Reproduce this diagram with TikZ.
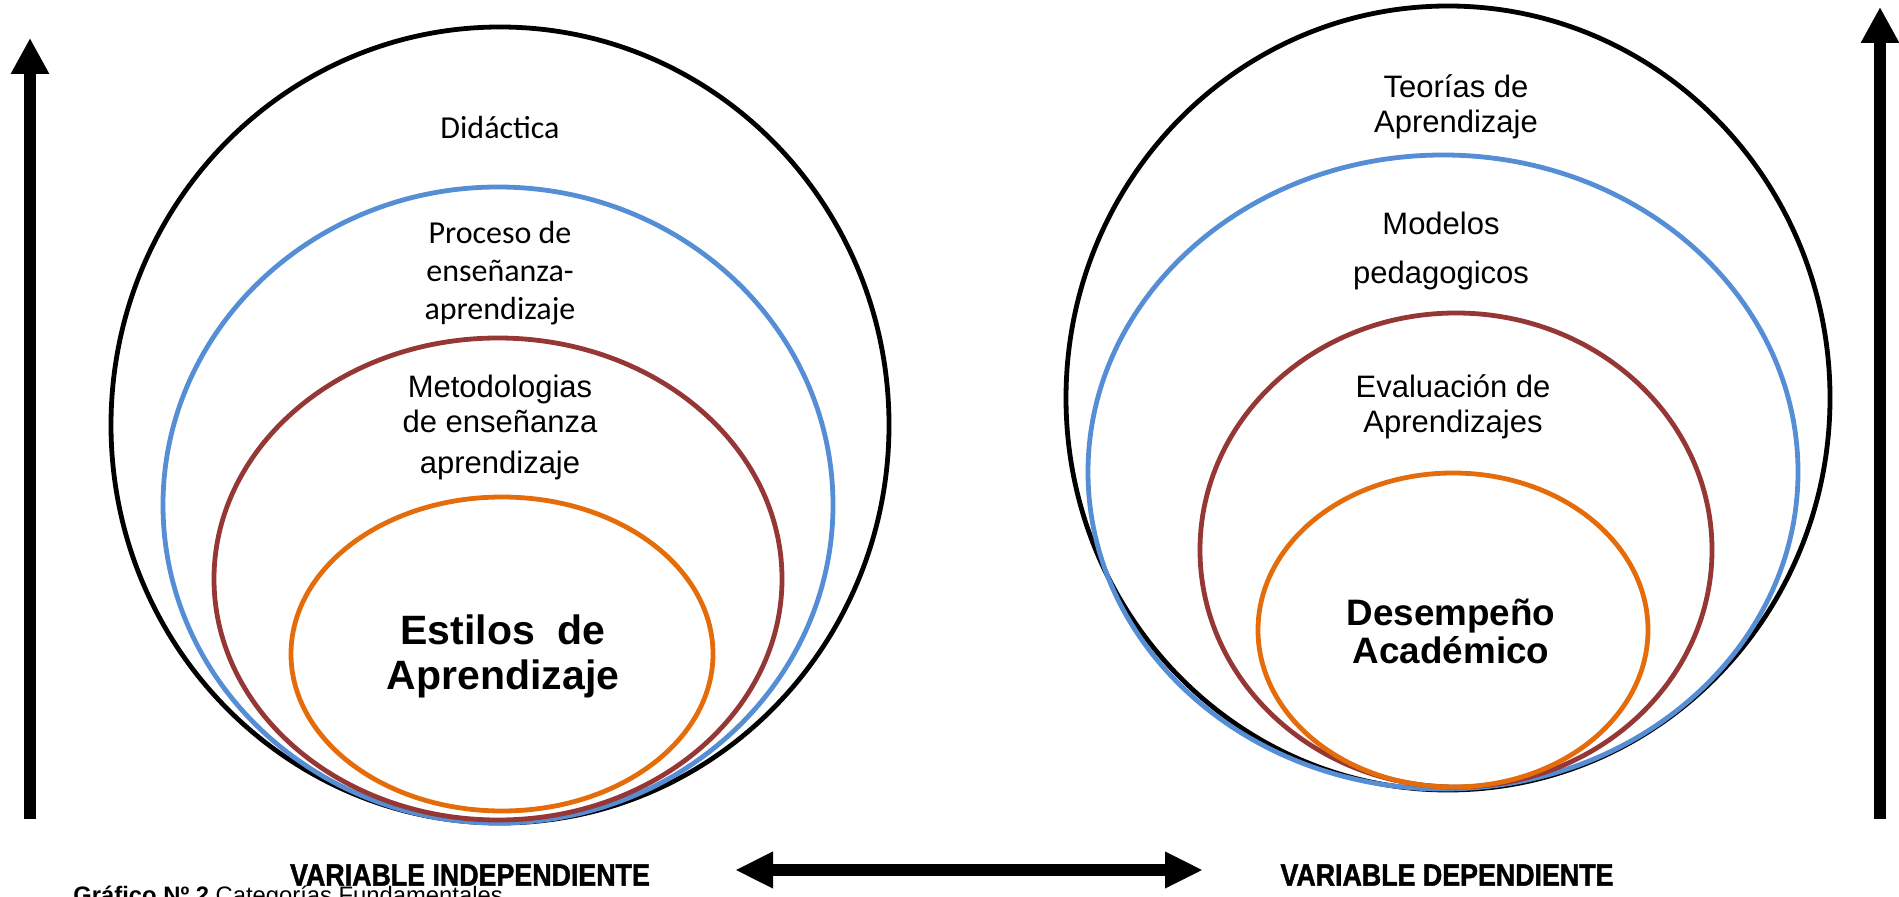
\documentclass[tikz,border=0pt]{standalone}
\usepackage{fontspec}
\setmainfont{Liberation Sans}
\newfontfamily\calfont{Carlito}
\newfontfamily\varfont[BoldFeatures={FakeBold=1.6}]{Liberation Sans}
\usetikzlibrary{arrows.meta}

\definecolor{ringblue}{HTML}{558ED5}
\definecolor{ringred}{HTML}{953735}
\definecolor{ringorange}{HTML}{E46C0A}

\begin{document}
\begin{tikzpicture}[x=0.5pt,y=-0.5pt,
		ring/.style={line width=2.4pt},
		lbl/.style={align=center,font=\fontsize{15.5}{17.5}\selectfont},
		cal/.style={align=center,font=\calfont\fontsize{16}{19}\selectfont},
		big/.style={align=center,font=\fontsize{20.5}{22.5}\selectfont\bfseries},
		varname/.style={font=\varfont\fontsize{15.4}{17}\selectfont\bfseries},
		fatarrow/.style={line width=6pt,-{Triangle[length=18pt,width=18pt]}}]
		\useasboundingbox (0,0) rectangle (1899,897);

		% left rings
		\draw [ring] (500,425) ellipse [x radius=389, y radius=398];
		\draw [ring,ringblue] (498,505) ellipse [x radius=335, y radius=318];
		\draw [ring,ringred] (498,579) ellipse [x radius=284, y radius=241];
		\draw [ring,ringorange] (502,654) ellipse [x radius=211, y radius=157];

		% right rings
		\draw [ring] (1448,398) ellipse [x radius=382, y radius=392];
		\draw [ring,ringblue] (1443,472) ellipse [x radius=355, y radius=317];
		\draw [ring,ringred] (1456,550) ellipse [x radius=256, y radius=237];
		\draw [ring,ringorange] (1453,630) ellipse [x radius=195, y radius=157];

		% left texts
		\node [cal] (didactica) at (500,128) {Didáctica};
		\node [cal] (proceso) at (500,273) {Proceso de\\enseñanza-\\aprendizaje};
		\node [lbl] (metodo) at (500,427) {Metodologias\\de enseñanza\\[3pt]aprendizaje};
		\node [big] (estilos) at (503,656) {Estilos~~de\\Aprendizaje};

		% right texts
		\node [lbl] (teorias) at (1456,107) {Teorías de\\Aprendizaje};
		\node [lbl,font=\fontsize{15.5}{24.5}\selectfont] (modelos) at (1441,251) {Modelos\\pedagogicos};
		\node [lbl] (evaluacion) at (1453,407) {Evaluación de\\Aprendizajes};
		\node [big,font=\fontsize{18.4}{19}\selectfont\bfseries] (desempeno) at (1451,631) {Desempeño\\Académico};

		% arrows
		\coordinate (lbot) at (30,819);
		\coordinate (ltop) at (30,38);
		\coordinate (rbot) at (1880,819);
		\coordinate (rtop) at (1880,7);
		\coordinate (hleft) at (735,870);
		\coordinate (hright) at (1203,870);
		\draw [fatarrow] (lbot) -- (ltop);
		\draw [fatarrow] (rbot) -- (rtop);
		\draw [line width=6pt,{Triangle[length=19pt,width=17pt]}-{Triangle[length=19pt,width=17pt]}] (hleft) -- (hright);

		% variable names
		\node [varname] (indep) at (470,875) {\scalebox{0.87}[1]{VARIABLE INDEPENDIENTE}};
		\node [varname] (dep) at (1447,875) {\scalebox{0.87}[1]{VARIABLE DEPENDIENTE}};

		% caption, cut by the page edge
		\node [anchor=north west,inner sep=0pt,font=\fontsize{11.9}{13}\selectfont] (caption) at (73,886) {\textbf{Gráfico Nº 2} Categorías Fundamentales};
	\end{tikzpicture}
\end{document}
